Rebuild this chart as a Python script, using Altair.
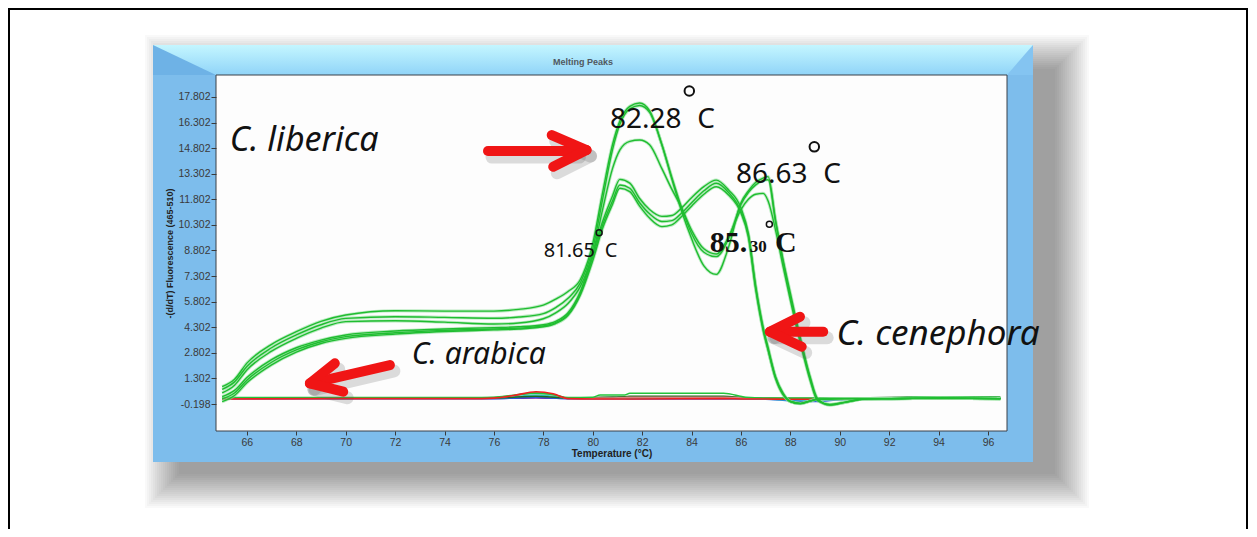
import altair as alt
import pandas as pd

# ---------------- data ----------------
temps = [65.0, 65.5, 66, 67, 68, 69, 70, 72, 74, 76, 77, 78, 78.5, 79, 79.5, 80,
         80.4, 80.8, 81.1, 81.5, 81.9, 82.3, 82.8, 83.2, 83.6, 84.0, 84.5, 85.0,
         85.5, 86.0, 86.3, 86.6, 86.9, 87.1, 87.4, 87.7, 88.0, 88.4, 88.8, 89.1,
         89.6, 90.2, 91, 92, 94, 96.5]

# C. liberica replicates
liberica_1 = [0.82, 1.25, 2.2, 3.3, 4.04, 4.65, 5.02, 5.27, 5.25, 5.25, 5.35, 5.6, 5.95, 6.4, 7.1, 9.2,
              12.2, 15.0, 16.4, 17.25, 17.45, 17.0, 15.0, 13.0, 11.1, 9.5, 7.9, 7.4,
              9.0, 11.6, 12.3, 12.8, 13.05, 13.13, 10.6, 8.3, 6.3, 3.7, 1.4, 0.13,
              -0.26, -0.1, 0.1, 0.12, 0.15, 0.12]
liberica_2 = [0.66, 1.1, 2.0, 3.1, 3.85, 4.45, 4.82, 4.92, 4.88, 4.83, 4.9, 5.1, 5.45, 6.0, 6.9, 8.9,
              11.8, 14.7, 16.2, 17.1, 17.3, 16.9, 15.0, 13.1, 11.3, 9.8, 8.7, 8.44,
              9.5, 11.5, 12.2, 12.65, 12.9, 12.95, 10.5, 8.2, 6.1, 3.6, 1.3, 0.05,
              -0.24, -0.1, 0.1, 0.12, 0.15, 0.12]
liberica_3 = [0.45, 0.9, 1.8, 2.9, 3.65, 4.25, 4.63, 4.68, 4.6, 4.49, 4.55, 4.8, 5.15, 5.7, 6.7, 8.6,
              11.2, 13.6, 14.7, 15.2, 15.28, 15.0, 13.6, 12.4, 11.3, 10.0, 8.9, 8.6,
              9.6, 11.2, 11.8, 12.1, 12.15, 11.7, 10.0, 7.9, 5.9, 3.4, 1.2, 0.0,
              -0.22, -0.1, 0.1, 0.12, 0.15, 0.12]
# C. canephora replicates
canephora_1 = [0.23, 0.6, 1.35, 2.4, 3.1, 3.55, 3.85, 4.08, 4.2, 4.28, 4.33, 4.45, 4.65, 5.15, 6.4, 8.6,
               10.5, 12.0, 12.97, 12.75, 11.85, 11.2, 10.8, 10.85, 11.3, 11.9, 12.55, 12.93,
               12.35, 11.3, 9.8, 6.7, 4.3, 3.1, 1.4, 0.45, -0.05, -0.16, -0.02, 0.08,
               0.1, 0.12, 0.12, 0.12, 0.15, 0.12]
canephora_2 = [0.1, 0.45, 1.2, 2.25, 2.97, 3.45, 3.75, 3.98, 4.12, 4.2, 4.25, 4.38, 4.58, 5.05, 6.3, 8.4,
               10.3, 11.7, 12.64, 12.45, 11.6, 10.95, 10.5, 10.55, 11.0, 11.6, 12.3, 12.74,
               12.2, 11.1, 9.7, 6.6, 4.2, 3.0, 1.35, 0.4, -0.05, -0.16, -0.02, 0.08,
               0.1, 0.12, 0.12, 0.12, 0.15, 0.12]
canephora_3 = [-0.06, 0.3, 1.05, 2.1, 2.85, 3.35, 3.65, 3.9, 4.05, 4.15, 4.2, 4.33, 4.52, 5.0, 6.2, 8.2,
               10.1, 11.5, 12.45, 12.25, 11.4, 10.7, 10.2, 10.3, 10.8, 11.4, 12.1, 12.54,
               12.05, 11.0, 9.6, 6.5, 4.1, 2.95, 1.3, 0.35, -0.05, -0.18, -0.02, 0.08,
               0.1, 0.12, 0.12, 0.12, 0.15, 0.12]

# C. arabica / controls near baseline
base_temps = [65, 70, 75, 76, 76.8, 77.7, 78.4, 79.0, 80, 80.3, 81.3, 81.5, 85.3, 86.2,
              87, 88, 89, 90, 91, 92.5, 93.2, 95, 96.5]
base_purple = [0.13, 0.13, 0.13, 0.13, 0.14, 0.16, 0.14, 0.13, 0.13, 0.13, 0.13, 0.11, 0.11, 0.12,
               0.12, 0.1, 0.1, 0.1, 0.13, 0.13, 0.13, 0.13, 0.13]
base_blue = [0.12, 0.12, 0.12, 0.12, 0.15, 0.2, 0.15, 0.12, 0.12, 0.12, 0.12, 0.12, 0.12, 0.1,
             0.08, 0.0, -0.05, 0.05, 0.12, 0.13, 0.15, 0.16, 0.16]
base_teal = [0.14, 0.14, 0.14, 0.15, 0.22, 0.33, 0.25, 0.14, 0.14, 0.14, 0.14, 0.15, 0.15, 0.12,
             0.1, 0.05, 0.05, 0.1, 0.12, 0.14, 0.14, 0.14, 0.14]
base_darkgreen = [0.16, 0.16, 0.16, 0.16, 0.2, 0.26, 0.2, 0.16, 0.16, 0.2, 0.22, 0.25, 0.25, 0.16,
                  0.14, 0.12, 0.12, 0.14, 0.16, 0.2, 0.22, 0.22, 0.2]
base_pink = [0.15, 0.15, 0.15, 0.18, 0.3, 0.47, 0.35, 0.15, 0.15, 0.15, 0.18, 0.2, 0.2, 0.15,
             0.15, 0.12, 0.12, 0.12, 0.12, 0.12, 0.15, 0.15, 0.15]
base_lime = [0.18, 0.18, 0.18, 0.2, 0.32, 0.44, 0.35, 0.18, 0.2, 0.33, 0.33, 0.43, 0.43, 0.2,
             0.15, 0.15, 0.15, 0.15, 0.15, 0.15, 0.23, 0.23, 0.2]
base_red = [0.1, 0.12, 0.12, 0.15, 0.3, 0.52, 0.4, 0.12, 0.1, 0.1, 0.1, 0.1, 0.12, 0.1,
            0.1, 0.08, 0.08, 0.1, 0.12, 0.12, 0.1, 0.1, 0.1]

x_ticks = [66, 68, 70, 72, 74, 76, 78, 80, 82, 84, 86, 88, 90, 92, 94, 96]
y_ticks = [-0.198, 1.302, 2.802, 4.302, 5.802, 7.302, 8.802, 10.302, 11.802,
           13.302, 14.802, 16.302, 17.802]
x_domain = [64.75, 96.77]
y_domain = [-1.78, 19.09]

# arrows (segments in data units): label, t1, f1, t2, f2
arrow_segments = [
    ("liberica", 75.76, 14.63, 79.3, 14.63),
    ("liberica", 78.34, 15.57, 79.75, 14.69),
    ("liberica", 78.40, 13.71, 79.75, 14.69),
    ("arabica", 71.79, 2.088, 68.6, 1.015),
    ("arabica", 69.56, 2.188, 68.55, 1.015),
    ("arabica", 69.90, 0.523, 68.55, 1.015),
    ("canephora", 89.33, 4.04, 87.25, 4.04),
    ("canephora", 88.39, 4.92, 87.17, 4.04),
    ("canephora", 88.46, 3.16, 87.17, 4.04),
]

# annotations: text, t, f
liberica_label = [("C. liberica", 65.31, 14.63)]
arabica_label = [("C. arabica", 72.67, 2.15)]
canephora_label = [("C. cenephora", 89.87, 3.26)]
big_numbers = [("82.28", 80.70, 15.96), ("C", 84.23, 15.96),
               ("86.63", 85.80, 12.74), ("C", 89.33, 12.74)]
small_numbers = [("81.65", 78.02, 8.44), ("C", 80.49, 8.44)]
serif_big = [("85.", 84.74, 8.73), ("C", 87.38, 8.73)]
serif_small = [("30", 86.36, 8.73)]
degree_big = [(83.91, 18.15), (88.97, 14.88)]
degree_small = [(80.26, 9.84), (87.15, 10.335)]

# ---------------- frames ----------------
W, H = 791, 356
dummy = pd.DataFrame({"a": [0]})
xs = alt.Scale(domain=x_domain, nice=False, zero=False)
ys = alt.Scale(domain=y_domain, nice=False, zero=False)
XT = "Temperature (°C)"
YT = "-(d/dT) Fluorescence (465-510)"


def X(field):
    return alt.X(field, type="quantitative", scale=xs, title=XT)


def Y(field):
    return alt.Y(field, type="quantitative", scale=ys, title=YT)


def box(x1, x2, y1, y2, **kw):
    return alt.Chart(dummy).mark_rect(**kw).encode(
        x=alt.value(x1), x2=alt.value(x2), y=alt.value(y1), y2=alt.value(y2))


layers = []
# soft drop shadow of the blue frame (mostly to the lower right)
for i in range(18):
    e = 2 * i
    layers.append(box(-63 + 26 - e, 817 + 22 + e, -30 + 24 - e, 387 + 12 + e,
                      color="black", opacity=0.022))
# outer black border
layers.append(box(-207, 1031, -66, 470, fillOpacity=0, stroke="black", strokeWidth=2))
# blue frame
layers.append(box(-63, 817, -30, 387, color="#7dbdec"))
grad = alt.LinearGradient(gradient="linear",
                          stops=[alt.GradientStop(color="#c4f6ff", offset=0),
                                 alt.GradientStop(color="#90d4f8", offset=1)],
                          x1=0, x2=0, y1=0, y2=1)
layers.append(box(-63, 817, -30, 0, fill=grad))
layers.append(alt.Chart(dummy).mark_point(
    shape="M -1 -0.476 L 1 0.476 L -1 0.476 Z", filled=True, color="#6eb2e6",
    size=3969, opacity=1, strokeWidth=0).encode(x=alt.value(-31.5), y=alt.value(-15)))
layers.append(alt.Chart(dummy).mark_point(
    shape="M 0.867 -1 L -0.867 1 L 0.867 1 Z", filled=True, color="#84c4f1",
    size=900, opacity=1, strokeWidth=0).encode(x=alt.value(804), y=alt.value(-15)))
# plot area
layers.append(box(0, W, 0, H, color="#fdfdfd", stroke="#3a4048", strokeWidth=1))
layers.append(alt.Chart(dummy).mark_text(
    text="Melting Peaks", font="Liberation Sans", fontSize=9, fontWeight="bold",
    color="#505860").encode(x=alt.value(367), y=alt.value(-13)))

# ---------------- curves ----------------
base_series = [("purple", base_purple, "#7a2aa8"), ("blue", base_blue, "#2a5ae0"),
               ("teal", base_teal, "#35c4c4"), ("darkgreen", base_darkgreen, "#1f6a1f"),
               ("pink", base_pink, "#d98080"), ("lime", base_lime, "#22c43a"),
               ("red", base_red, "#f02020")]
for name, vals, col in base_series:
    df = pd.DataFrame({"t": base_temps, "f": vals})
    layers.append(alt.Chart(df).mark_line(color=col, strokeWidth=1.6, interpolate="monotone")
                  .encode(x=X("t"), y=Y("f")))

green = {"liberica_1": liberica_1, "liberica_2": liberica_2, "liberica_3": liberica_3,
         "canephora_1": canephora_1, "canephora_2": canephora_2, "canephora_3": canephora_3}
gdf = pd.DataFrame([{"curve": k, "t": t, "f": f}
                    for k, v in green.items() for t, f in zip(temps, v)])
layers.append(alt.Chart(gdf).mark_line(color="#86dc92", strokeWidth=3.2, opacity=0.55,
                                       interpolate="monotone")
              .encode(x=X("t"), y=Y("f"), detail="curve:N"))
x_axis = alt.Axis(values=x_ticks, tickCount=40, format="d", tickSize=4, labelPadding=2,
                  labelFontSize=10.5,
                  labelFont="Liberation Sans", labelColor="#3a3a3a", tickColor="#3a3a3a",
                  labelOverlap=False, labelFlush=False,
                  domain=False, grid=False, title=XT, titleFont="Liberation Sans",
                  titleFontSize=10, titleFontWeight="bold", titleColor="#222222",
                  titlePadding=1, zindex=1)
y_axis = alt.Axis(values=y_ticks, tickCount=40, tickSize=5, labelPadding=1, labelFontSize=10.5,
                  labelExpr="replace(format(datum.value, '.3f'), '\u2212', '-')",
                  labelOverlap=False, labelFlush=False,
                  labelFont="Liberation Sans", labelColor="#3a3a3a", tickColor="#3a3a3a",
                  domain=False, grid=False, title=YT, titleFont="Liberation Sans",
                  titleFontSize=9, titleFontWeight="bold", titleColor="#222222",
                  titlePadding=3, zindex=1)
layers.append(alt.Chart(gdf).mark_line(color="#1fbd30", strokeWidth=1.4, interpolate="monotone")
              .encode(x=alt.X("t:Q", scale=xs, axis=x_axis, title=XT),
                      y=alt.Y("f:Q", scale=ys, axis=y_axis, title=YT),
                      detail="curve:N"))

# ---------------- arrows ----------------
adf = pd.DataFrame(arrow_segments, columns=["label", "t1", "f1", "t2", "f2"])
layers.append(alt.Chart(adf).mark_rule(color="#555555", opacity=0.2, strokeWidth=13,
                                       strokeCap="round", xOffset=4, x2Offset=4,
                                       yOffset=6, y2Offset=6)
              .encode(x=X("t1"), y=Y("f1"), x2="t2", y2="f2"))
layers.append(alt.Chart(adf).mark_rule(color="#f01515", strokeWidth=10, strokeCap="round")
              .encode(x=X("t1"), y=Y("f1"), x2="t2", y2="f2"))


# ---------------- texts ----------------
def texts(items, **kw):
    df = pd.DataFrame(items, columns=["txt", "t", "f"])
    return alt.Chart(df).mark_text(align="left", baseline="alphabetic", color="#111111", **kw) \
        .encode(x=X("t"), y=Y("f"), text="txt:N")


layers.append(texts(liberica_label, font="Noto Sans", fontSize=34, fontStyle="italic"))
layers.append(texts(arabica_label, font="Noto Sans", fontSize=30, fontStyle="italic"))
layers.append(texts(canephora_label, font="Noto Sans", fontSize=35, fontStyle="italic"))
layers.append(texts(big_numbers, font="Noto Sans", fontSize=28))
layers.append(texts(small_numbers, font="Noto Sans", fontSize=20))
layers.append(texts(serif_big, font="Liberation Serif", fontSize=30, fontWeight="bold"))
layers.append(texts(serif_small, font="Liberation Serif", fontSize=17, fontWeight="bold"))


def degrees(items, size, sw):
    df = pd.DataFrame(items, columns=["t", "f"])
    return alt.Chart(df).mark_point(shape="circle", filled=False, color="#111111",
                                    size=size, strokeWidth=sw, opacity=1) \
        .encode(x=X("t"), y=Y("f"))


layers.append(degrees(degree_big, 90, 2))
layers.append(degrees(degree_small, 36, 1.5))

chart = alt.layer(*layers).properties(
    width=W, height=H,
    autosize=alt.AutoSizeParams(type="none"),
    padding={"left": 208, "top": 67, "right": 242, "bottom": 98},
    background="white",
).configure_view(stroke=None)

chart.save("out.html", embed_options={"renderer": "svg", "actions": False})
